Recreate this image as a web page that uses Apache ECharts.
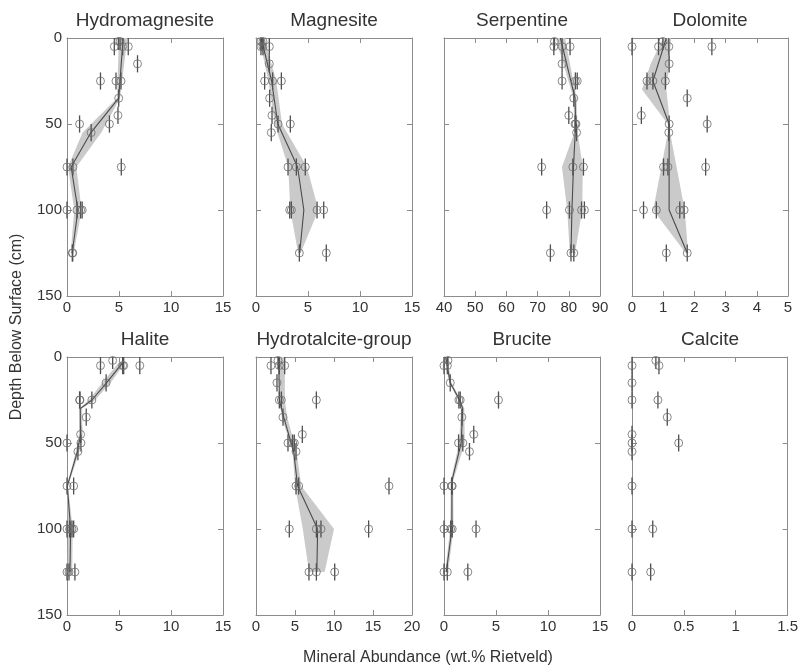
<!DOCTYPE html>
<html>
<head>
<meta charset="utf-8">
<script src="https://cdn.jsdelivr.net/npm/echarts@6/dist/echarts.min.js"></script>
<style>
html,body{margin:0;padding:0;background:#fff;}
#chart{width:801px;height:670px;}
</style>
</head>
<body>
<div id="chart"></div>
<script>
// ---------- DATA ----------
const titles = ['Hydromagnesite','Magnesite','Serpentine','Dolomite','Halite','Hydrotalcite-group','Brucite','Calcite'];
const xMins = [0, 0, 40, 0, 0, 0, 0, 0];
const xMaxs = [15, 15, 90, 5, 15, 20, 15, 1.5];
const xIntervals = [5, 5, 10, 1, 5, 5, 5, 0.5];
const depthMin = 0, depthMax = 150, depthInterval = 50;
const depthErr = 5; // cm, vertical error bar half-length

// points: [abundance, depth]
const hydromagnesitePts = [[4.55,5],[4.94,2],[5.1,2],[5.35,5],[5.89,5],[6.78,15],[3.22,25],[4.71,25],[5.19,25],[4.97,35],[4.90,45],[1.21,50],[4.08,50],[2.32,55],[0,75],[0.57,75],[5.22,75],[0,100],[0.96,100],[1.31,100],[1.46,100],[0.51,125],[0.55,125]];
const magnesitePts = [[0.48,2],[0.67,2],[0.48,5],[0.67,5],[1.28,5],[1.28,15],[0.83,25],[1.60,25],[2.44,25],[1.31,35],[1.54,45],[2.12,50],[3.30,50],[1.47,55],[3.08,75],[3.88,75],[4.74,75],[3.24,100],[3.40,100],[5.87,100],[6.51,100],[4.17,125],[6.76,125]];
const serpentinePts = [[75.4,2],[75.2,5],[77.85,5],[80.4,5],[77.85,15],[77.85,25],[82.1,25],[82.7,25],[81.6,35],[80.0,45],[82.0,50],[82.3,50],[82.5,55],[71.3,75],[81.3,75],[84.7,75],[72.9,100],[80.2,100],[84.1,100],[85.0,100],[74.1,125],[80.7,125],[81.6,125]];
const dolomitePts = [[0,5],[0.85,5],[0.99,2],[1.18,5],[2.56,5],[1.19,15],[0.48,25],[0.67,25],[1.07,25],[1.77,35],[0.30,45],[1.19,50],[2.41,50],[1.18,55],[1.01,75],[1.15,75],[2.36,75],[0.37,100],[0.78,100],[1.53,100],[1.67,100],[1.10,125],[1.77,125]];
const halitePts = [[3.22,5],[4.39,2],[5.35,5],[5.45,5],[7.0,5],[3.76,15],[1.21,25],[1.25,25],[2.39,25],[1.85,35],[1.31,45],[0,50],[1.34,50],[1.05,55],[0,75],[0.64,75],[0,100],[0.25,100],[0.48,100],[0.64,100],[0,125],[0.19,125],[0.76,125]];
const hydrotalcitePts = [[1.92,5],[2.82,2],[2.99,5],[3.68,5],[2.69,15],[2.99,25],[3.25,25],[7.74,25],[3.46,35],[5.94,45],[4.10,50],[4.70,50],[4.91,50],[5.13,55],[5.13,75],[5.47,75],[17.05,75],[4.27,100],[7.74,100],[8.33,100],[14.44,100],[6.79,125],[7.74,125],[10.09,125]];
const brucitePts = [[0,5],[0.38,2],[0.32,5],[0.60,15],[1.43,25],[1.56,25],[5.24,25],[1.72,35],[2.86,45],[1.40,50],[1.81,50],[2.45,55],[0,75],[0.73,75],[0.79,75],[0,100],[0.64,100],[0.79,100],[3.08,100],[0,125],[0.32,125],[2.29,125]];
const calcitePts = [[0,5],[0.23,2],[0.26,5],[0,15],[0,25],[0.25,25],[0.34,35],[0,45],[0,50],[0.45,50],[0,55],[0,75],[0,100],[0.20,100],[0,125],[0.18,125]];

// mean profile lines: [abundance, depth]
const hydromagnesiteMean = [[5.4,0],[4.97,35],[2.3,55],[0.4,75],[1.05,100],[0.5,125]];
const magnesiteMean = [[0.5,0],[1.5,25],[2.1,50],[4.0,75],[4.6,100],[4.2,125]];
const serpentineMean = [[77.3,0],[82.0,35],[82.2,50],[81.5,75],[81.0,100],[80.7,125]];
const dolomiteMean = [[1.1,0],[0.67,25],[1.19,50],[1.19,100],[1.77,125]];
const haliteMean = [[5.4,3],[3.8,15],[2.4,25],[1.27,30],[1.3,45],[1.0,55],[0.03,75],[0.35,100],[0.28,125]];
const hydrotalciteMean = [[2.9,0],[3.0,25],[3.55,35],[4.83,55],[5.34,75],[7.9,100],[7.8,125]];
const bruciteMean = [[0.16,0],[0.6,15],[1.5,25],[1.8,30],[1.65,50],[0.76,72],[0.76,100],[0.22,125]];
const calciteMean = [];

// shaded bands: [low, high, depth]
const hydromagnesiteBand = [[5.0,5.8,0],[4.8,5.1,35],[1.5,3.3,55],[0.1,0.9,75],[0.7,1.4,100],[0.35,0.65,125]];
const magnesiteBand = [[0.3,0.8,0],[1.2,1.95,25],[1.8,2.5,50],[3.1,4.9,75],[3.3,6.0,100],[4.05,4.3,125]];
const serpentineBand = [[75.8,78.8,0],[81.5,82.5,35],[81.8,82.8,55],[77.8,84.5,75],[79.5,84.3,100],[80.3,82.0,125]];
const dolomiteBand = [[1.0,1.25,0],[0.6,1.2,15],[0.32,1.1,30],[1.15,1.22,50],[1.15,1.22,55],[0.68,1.69,100],[1.72,1.8,125]];
const haliteBand = [[5.0,5.6,3],[3.4,4.2,15],[2.1,2.7,25],[1.2,1.45,30],[1.15,1.5,45],[0.85,1.2,55],[0,0.1,75],[0.1,0.55,100],[0.05,0.5,125]];
const hydrotalciteBand = [[2.8,3.7,0],[3.0,3.7,25],[3.3,4.0,35],[4.7,5.2,55],[5.0,5.8,75],[6.0,10.0,100],[6.8,8.8,125]];
const bruciteBand = [[0.05,0.3,0],[0.5,0.72,15],[1.35,1.62,25],[1.65,1.95,30],[1.45,2.0,50],[0.65,0.88,72],[0.6,0.92,100],[0.1,0.4,125]];
const calciteBand = [];

const allPts = [hydromagnesitePts, magnesitePts, serpentinePts, dolomitePts, halitePts, hydrotalcitePts, brucitePts, calcitePts];
const allMean = [hydromagnesiteMean, magnesiteMean, serpentineMean, dolomiteMean, haliteMean, hydrotalciteMean, bruciteMean, calciteMean];
const allBand = [hydromagnesiteBand, magnesiteBand, serpentineBand, dolomiteBand, haliteBand, hydrotalciteBand, bruciteBand, calciteBand];

// ---------- LAYOUT ----------
const colLefts = [67, 256, 444, 632];
const rowTops = [38, 357];
const gridW = 156, gridH = 258;
const FONT = '"Liberation Sans", Arial, Helvetica, sans-serif';
const axisColor = '#8c8c8c';
const textColor = '#333333';

const chart = echarts.init(document.getElementById('chart'), null, {renderer: 'canvas'});

const grids = [], xAxes = [], yAxes = [], series = [], titleArr = [];
for (let i = 0; i < 8; i++) {
  const col = i % 4, row = Math.floor(i / 4);
  grids.push({left: colLefts[col], top: rowTops[row], width: gridW, height: gridH, containLabel: false});
  const xBase = {
    type: 'value', gridIndex: i, min: xMins[i], max: xMaxs[i], interval: xIntervals[i],
    axisLine: {show: true, onZero: false, lineStyle: {color: axisColor, width: 1}},
    axisTick: {show: true, inside: true, length: 5, lineStyle: {color: axisColor}},
    splitLine: {show: false}
  };
  xAxes.push(Object.assign({}, xBase, {position: 'bottom',
    axisLabel: {show: true, margin: 4, fontSize: 15, color: textColor, fontFamily: FONT, showMinLabel: true, showMaxLabel: true}}));
  xAxes.push(Object.assign({}, xBase, {position: 'top', axisLabel: {show: false}}));
  const yBase = {
    type: 'value', gridIndex: i, min: depthMin, max: depthMax, interval: depthInterval, inverse: true,
    axisLine: {show: true, onZero: false, lineStyle: {color: axisColor, width: 1}},
    axisTick: {show: true, inside: true, length: 5, lineStyle: {color: axisColor}},
    splitLine: {show: false}
  };
  yAxes.push(Object.assign({}, yBase, {position: 'left',
    axisLabel: {show: col === 0, margin: 5, fontSize: 15, color: textColor, fontFamily: FONT, showMinLabel: true, showMaxLabel: true}}));
  yAxes.push(Object.assign({}, yBase, {position: 'right', axisLabel: {show: false}}));

  titleArr.push({text: titles[i], left: colLefts[col] + gridW / 2, top: rowTops[row] - 27, textAlign: 'center', padding: 0,
    textStyle: {fontSize: 19, fontWeight: 'normal', color: textColor, fontFamily: FONT}});

  const xi = i * 2, yi = i * 2;
  const band = allBand[i];
  if (band.length) {
    series.push({
      type: 'custom', xAxisIndex: xi, yAxisIndex: yi, silent: true, z: 1,
      data: band.map(b => [b[0], b[2]]), encode: {x: 0, y: 1},
      renderItem: function (params, api) {
        if (params.dataIndex !== 0) return null;
        const pts = [];
        for (let k = 0; k < band.length; k++) pts.push(api.coord([band[k][0], band[k][2]]));
        for (let k = band.length - 1; k >= 0; k--) pts.push(api.coord([band[k][1], band[k][2]]));
        return {type: 'polygon', shape: {points: pts}, style: {fill: '#cacaca', stroke: null}};
      }
    });
  }
  if (allMean[i].length) {
    series.push({
      type: 'line', xAxisIndex: xi, yAxisIndex: yi, silent: true, z: 2,
      data: allMean[i], showSymbol: false, symbol: 'none',
      lineStyle: {color: '#4a4a4a', width: 1.1}
    });
  }
  series.push({
    type: 'custom', xAxisIndex: xi, yAxisIndex: yi, silent: true, z: 3,
    data: allPts[i], encode: {x: 0, y: 1},
    renderItem: function (params, api) {
      const x = api.value(0), d = api.value(1);
      const p1 = api.coord([x, Math.max(depthMin, d - depthErr)]);
      const p2 = api.coord([x, Math.min(depthMax, d + depthErr)]);
      return {type: 'line', shape: {x1: p1[0], y1: p1[1], x2: p2[0], y2: p2[1]},
        style: {stroke: '#4f4f4f', lineWidth: 1.3}};
    }
  });
  series.push({
    type: 'scatter', xAxisIndex: xi, yAxisIndex: yi, silent: true, z: 4, clip: false,
    data: allPts[i], symbol: 'circle', symbolSize: 8,
    itemStyle: {color: 'rgba(255,255,255,0)', borderColor: '#6b6b6b', borderWidth: 1}
  });
}

chart.setOption({
  animation: false,
  backgroundColor: '#ffffff',
  title: titleArr,
  grid: grids,
  xAxis: xAxes,
  yAxis: yAxes,
  series: series,
  graphic: [
    {type: 'text', x: 17, y: 327, rotation: Math.PI / 2,
      style: {text: 'Depth Below Surface (cm)', align: 'center', verticalAlign: 'middle', fontSize: 16, fill: textColor, fontFamily: FONT}},
    {type: 'text', x: 428, y: 658,
      style: {text: 'Mineral Abundance (wt.% Rietveld)', align: 'center', verticalAlign: 'middle', fontSize: 16, fill: textColor, fontFamily: FONT}}
  ]
});
</script>
</body>
</html>
